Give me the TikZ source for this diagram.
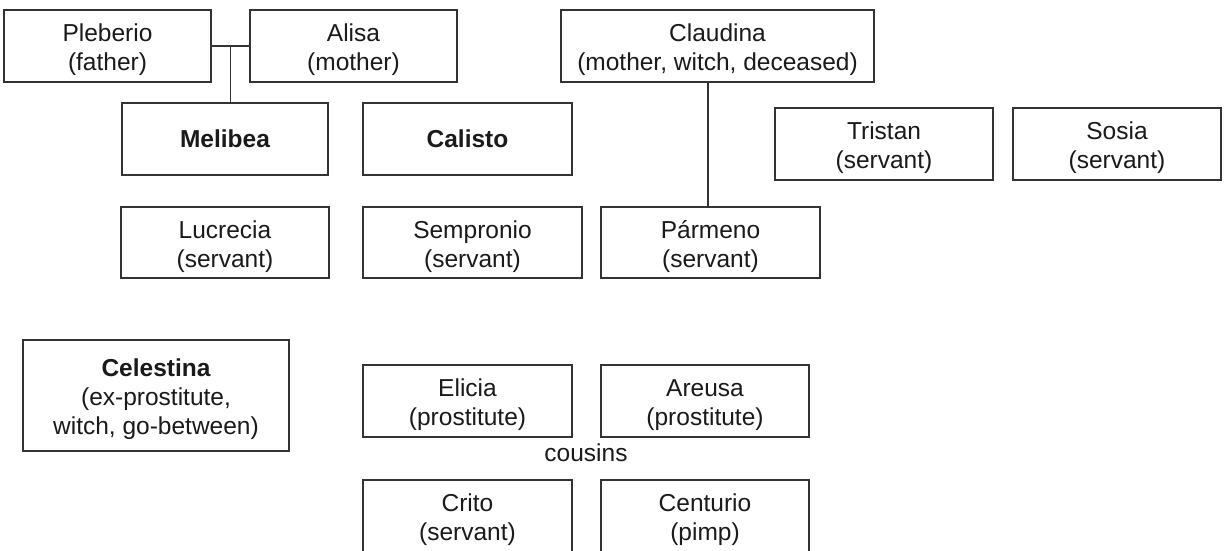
\documentclass[tikz,border=0pt]{standalone}
\usepackage{fontspec}
\setmainfont{Liberation Sans}
\usetikzlibrary{calc}
\definecolor{lc}{HTML}{333333}
\definecolor{tc}{HTML}{1A1A1A}
\newcommand\topstrut{\rule{0pt}{26pt}}
\tikzset{
  person/.style={draw=lc, line width=1.5pt, inner sep=0pt, align=center,
    text=tc, font=\fontsize{24.5}{29}\selectfont},
  link/.style={draw=lc, line width=1.5pt},
  lbl/.style={inner sep=0pt, text=tc, font=\fontsize{24.5}{29}\selectfont}
}
\begin{document}
\begin{tikzpicture}[x=1pt,y=-1pt]
\clip (0,0) rectangle (1225,550);
\fill[white] (0,0) rectangle (1225,550);
\node[person, minimum width=207pt, minimum height=72pt] (pleberio) at (107.5,46) {\topstrut Pleberio\\(father)};
\node[person, minimum width=207pt, minimum height=72pt] (alisa) at (353.5,46) {\topstrut Alisa\\(mother)};
\node[person, minimum width=313pt, minimum height=72pt] (claudina) at (717.5,46) {\topstrut Claudina\\(mother, witch, deceased)};
\node[person, minimum width=206pt, minimum height=72pt] (melibea) at (225,139) {\bfseries Melibea};
\node[person, minimum width=209pt, minimum height=72pt] (calisto) at (467.5,139) {\bfseries Calisto};
\node[person, minimum width=218pt, minimum height=72pt] (tristan) at (884,144) {\topstrut Tristan\\(servant)};
\node[person, minimum width=208pt, minimum height=72pt] (sosia) at (1117,144) {\topstrut Sosia\\(servant)};
\node[person, minimum width=208pt, minimum height=71pt] (lucrecia) at (225,242.5) {\topstrut Lucrecia\\(servant)};
\node[person, minimum width=219pt, minimum height=71pt] (sempronio) at (472.5,242.5) {\topstrut Sempronio\\(servant)};
\node[person, minimum width=219pt, minimum height=71pt] (parmeno) at (710.5,242.5) {\topstrut Pármeno\\(servant)};
\node[person, minimum width=266pt, minimum height=111pt] (celestina) at (156,395.5) {\topstrut\bfseries Celestina\\(ex-prostitute,\\witch, go-between)};
\node[person, minimum width=209pt, minimum height=72pt] (elicia) at (467.5,401) {\topstrut Elicia\\(prostitute)};
\node[person, minimum width=208pt, minimum height=72pt] (areusa) at (705,401) {\topstrut Areusa\\(prostitute)};
\node[lbl] (cousins) at (586,453) {cousins};
\node[person, minimum width=209pt, minimum height=72pt] (crito) at (467.5,516) {\topstrut Crito\\(servant)};
\node[person, minimum width=208pt, minimum height=72pt] (centurio) at (705,516) {\topstrut Centurio\\(pimp)};
% connectors
\draw[link] (pleberio.east) -- (alisa.west);
\coordinate (mid) at ($(pleberio.east)!0.5!(alisa.west)$);
\draw[link] (mid) -- (mid |- melibea.north);
\coordinate (cx) at (708,0);
\draw[link] (cx |- claudina.south) -- (cx |- parmeno.north);
\end{tikzpicture}
\end{document}
